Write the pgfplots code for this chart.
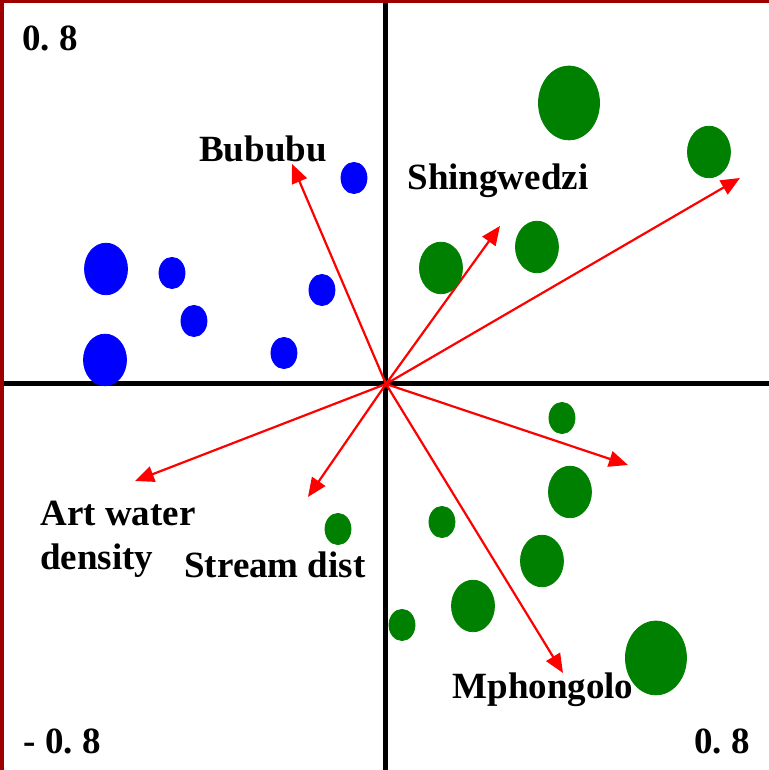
\documentclass[border=0pt]{standalone}
\usepackage{pgfplots}
\pgfplotsset{compat=1.18}
\usepackage{fontspec}
\setmainfont{Liberation Serif}
\usetikzlibrary{arrows.meta}
\definecolor{frame}{rgb}{0.62,0,0}
\definecolor{dgreen}{rgb}{0,0.5,0}
\tikzset{lbl/.style={font=\fontsize{18.5}{21.5}\selectfont\bfseries, text=black}}
\begin{document}
\begin{tikzpicture}
\begin{axis}[
  width=384.5pt, height=385pt, scale only axis,
  xmin=-0.8025, xmax=0.7963, ymin=-0.8025, ymax=0.7983,
  hide axis, clip=false,
]
% axis cross
\draw[line width=2.5pt, black] (axis cs:0,-0.8025) -- (axis cs:0,0.7983);
\draw[line width=2.5pt, black] (axis cs:-0.8025,0) -- (axis cs:0.7963,0);
% blue small
\addplot[only marks, mark=*, blue, mark size=6.5pt, mark options={yscale=1.2}] coordinates {
(-0.0665,0.4283) (-0.4449,0.2308) (-0.3992,0.1310) (-0.1331,0.1954) (-0.2121,0.0644)};
% blue medium
\addplot[only marks, mark=*, blue, mark size=10.75pt, mark options={yscale=1.2}] coordinates {
(-0.5821,0.2391) (-0.5842,0.0500)};
% green small
\addplot[only marks, mark=*, dgreen, mark size=6.5pt, mark options={yscale=1.2}] coordinates {
(0.3659,-0.0707) (0.1164,-0.2869) (-0.0998,-0.3015) (0.0333,-0.5010)};
% green medium
\addplot[only marks, mark=*, dgreen, mark size=10.75pt, mark options={yscale=1.2}] coordinates {
(0.6715,0.4823) (0.3139,0.2848) (0.1143,0.2412) (0.3825,-0.2245) (0.3243,-0.3680) (0.1809,-0.4615)};
% green large
\addplot[only marks, mark=*, dgreen, mark size=15.25pt, mark options={yscale=1.21}] coordinates {
(0.3805,0.5842) (0.5613,-0.5696)};
% arrows
\pgfplotsset{arr/.style={red, line width=1.1pt, no marks, -{Triangle[length=9.5pt,width=8pt]}}}
\addplot[arr] coordinates {(0,0) (-0.1954,0.4574)};
\addplot[arr] coordinates {(0,0) (0.2370,0.3285)};
\addplot[arr] coordinates {(0,0) (0.7360,0.4283)};
\addplot[arr] coordinates {(0,0) (0.5031,-0.1684)};
\addplot[arr] coordinates {(0,0) (0.3680,-0.6008)};
\addplot[arr] coordinates {(0,0) (-0.1622,-0.2349)};
\addplot[arr] coordinates {(0,0) (-0.5218,-0.2017)};
% labels
\node[lbl] at (axis cs:-0.2557,0.4886) {Bububu};
\node[lbl] at (axis cs:0.2328,0.4220) {Shingwedzi};
\node[lbl, font=\fontsize{18.5}{22}\selectfont\bfseries, anchor=west, align=left, inner sep=0pt] at (axis cs:-0.7193,-0.3222) {Art water\\density};
\node[lbl] at (axis cs:-0.2308,-0.3763) {Stream dist};
\node[lbl] at (axis cs:0.3264,-0.6362) {Mphongolo};
\node[lbl] at (axis cs:-0.6985,0.7193) {0.\ 8};
\node[lbl] at (axis cs:-0.6736,-0.7422) {-\ 0.\ 8};
\node[lbl] at (axis cs:0.6985,-0.7422) {0.\ 8};
% frame
\draw[frame, line width=2pt] ([xshift=1pt]rel axis cs:0,0) -- ([xshift=1pt]rel axis cs:0,1);
\draw[frame, line width=1.4pt] ([yshift=-0.7pt]rel axis cs:0,1) -- ([yshift=-0.7pt]rel axis cs:1,1);
\end{axis}
\pgfresetboundingbox
\path (current axis.south west) rectangle (current axis.north east);
\end{tikzpicture}
\end{document}
